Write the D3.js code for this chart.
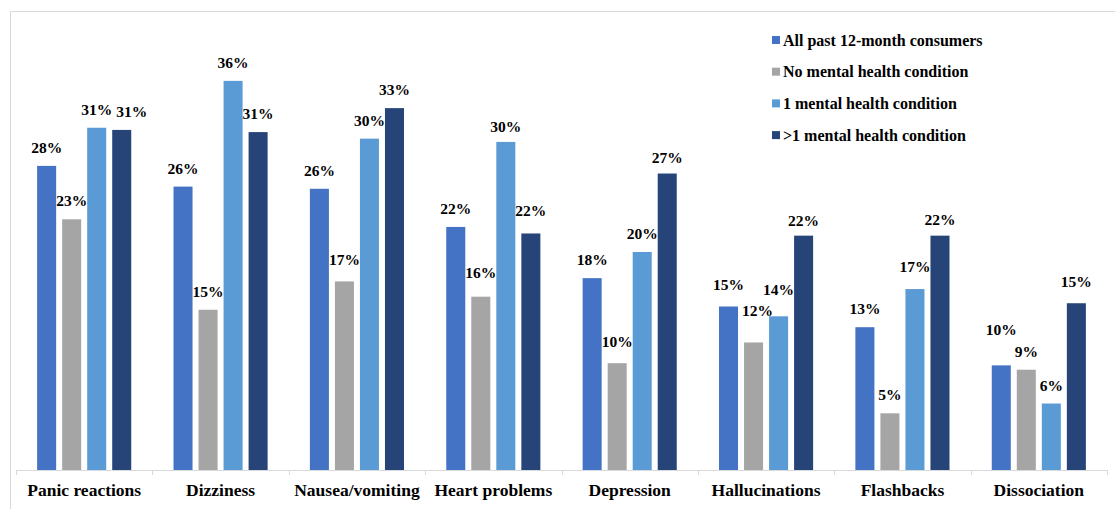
<!DOCTYPE html>
<html>
<head>
<meta charset="utf-8">
<script src="https://cdn.jsdelivr.net/npm/d3@7"></script>
<style>
  html, body { margin: 0; padding: 0; background: #fff; }
  svg { display: block; }
  text { font-family: "Liberation Serif", "Times New Roman", serif; font-weight: bold; fill: #000; }
</style>
</head>
<body>
<svg id="chart" width="1115" height="509"></svg>
<script>
// Adverse effects by mental health status (share of past 12-month consumers, %)
const categories = ["Panic reactions", "Dizziness", "Nausea/vomiting", "Heart problems",
                    "Depression", "Hallucinations", "Flashbacks", "Dissociation"];
const seriesNames = ["All past 12-month consumers", "No mental health condition",
                     "1 mental health condition", ">1 mental health condition"];
const allConsumers = [27.9, 26.0, 25.8, 22.3, 17.6, 15.0, 13.1, 9.6];
const noCondition  = [23.0, 14.7, 17.3, 15.9, 9.8, 11.7, 5.2, 9.2];
const oneCondition = [31.4, 35.7, 30.4, 30.1, 20.0, 14.1, 16.6, 6.1];
const multiCondition = [31.2, 31.0, 33.2, 21.7, 27.2, 21.5, 21.5, 15.3];
const colors = ["#4472C4", "#A5A5A5", "#5B9BD5", "#264478"];

const seriesValues = [allConsumers, noCondition, oneCondition, multiCondition];

// hand-placed data labels: extra [dx, dy] per "series,category" so crowded labels don't collide
const labelNudge = {
  "3,0": [10, 0],
  "1,2": [0, -3],
  "1,3": [0, -6], "2,3": [0, 3], "3,3": [0, -4],
  "1,4": [0, -3], "3,4": [0, 2],
  "0,5": [0, -4], "1,5": [4, -13], "2,5": [0, -8], "3,5": [0, 3],
  "2,6": [0, -4], "3,6": [0, 2],
  "0,7": [0, -17], "3,7": [0, -3]
};

const svg = d3.select("#chart");

// chart frame
svg.append("rect")
  .attr("x", 10.5).attr("y", 11.5)
  .attr("width", 1120).attr("height", 520)
  .attr("fill", "none").attr("stroke", "#d9d9d9");

const baseY = 470, left = 16, right = 1107;

const x0 = d3.scaleBand().domain(categories).range([left, right])
  .paddingInner(0.31).paddingOuter(0.155);
const x1 = d3.scaleBand().domain(d3.range(seriesNames.length)).range([0, x0.bandwidth()])
  .paddingInner(0.24).paddingOuter(0);
const y = d3.scaleLinear().domain([0, 40]).range([baseY, baseY - 436]);

// bars
const groups = svg.append("g").selectAll("g")
  .data(categories)
  .join("g")
  .attr("transform", d => `translate(${x0(d)},0)`);

const cells = (c, i) => seriesValues.map((vals, s) => ({ s, i, v: vals[i] }));

groups.selectAll("rect")
  .data(cells)
  .join("rect")
  .attr("x", d => x1(d.s))
  .attr("y", d => y(d.v))
  .attr("width", x1.bandwidth())
  .attr("height", d => baseY - y(d.v))
  .attr("fill", d => colors[d.s]);

// value labels
const nudge = d => labelNudge[d.s + "," + d.i] || [0, 0];
groups.selectAll("text.val")
  .data(cells)
  .join("text")
  .attr("class", "val")
  .attr("x", d => x1(d.s) + x1.bandwidth() / 2 + nudge(d)[0])
  .attr("y", d => y(d.v) - 13 + nudge(d)[1])
  .attr("text-anchor", "middle")
  .style("font-size", "15.5px")
  .text(d => Math.round(d.v) + "%");

// category axis
const axis = d3.axisBottom(x0).tickSize(0).tickPadding(14);
const axG = svg.append("g").attr("transform", `translate(0,${baseY})`).call(axis);
axG.select(".domain").remove();
axG.selectAll("text")
  .style("font-size", "17.5px")
  .style("font-family", '"Liberation Serif", "Times New Roman", serif')
  .style("font-weight", "bold")
  .attr("fill", "#000");

svg.append("line")
  .attr("x1", left).attr("x2", right)
  .attr("y1", baseY + 0.5).attr("y2", baseY + 0.5)
  .attr("stroke", "#d9d9d9");

const boundaries = categories.map(c => x0(c) - x0.step() * x0.paddingInner() / 2);
boundaries.push(right);
svg.append("g").selectAll("line")
  .data(boundaries)
  .join("line")
  .attr("x1", d => Math.round(d) + 0.5).attr("x2", d => Math.round(d) + 0.5)
  .attr("y1", baseY).attr("y2", baseY + 5)
  .attr("stroke", "#d9d9d9");

// legend
const legend = svg.append("g").attr("transform", "translate(772,40)");
const items = legend.selectAll("g")
  .data(seriesNames)
  .join("g")
  .attr("transform", (d, i) => `translate(0,${i * 31.7})`);
items.append("rect")
  .attr("x", 0).attr("y", -4).attr("width", 8).attr("height", 8)
  .attr("fill", (d, i) => colors[i]);
items.append("text")
  .attr("x", 11).attr("y", 5.5)
  .style("font-size", "16px")
  .text(d => d);
</script>
</body>
</html>
